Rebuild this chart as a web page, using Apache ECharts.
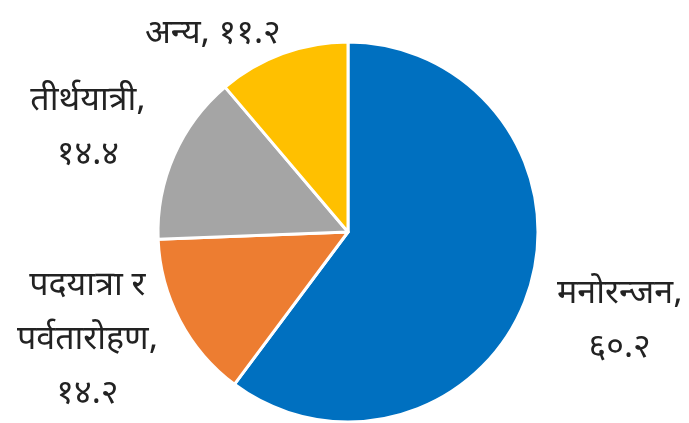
<!DOCTYPE html>
<html>
<head>
<meta charset="utf-8">
<script src="https://cdn.jsdelivr.net/npm/echarts@6/dist/echarts.min.js"></script>
<style>
  html, body { margin: 0; padding: 0; background: #ffffff; }
  #chart { width: 689px; height: 423px; }
</style>
</head>
<body>
<div id="chart"></div>
<script>
// Share of visitors by purpose of visit (%)
const categories = ['मनोरन्जन', 'पदयात्रा र\nपर्वतारोहण', 'तीर्थयात्री', 'अन्य'];
const values = [60.2, 14.2, 14.4, 11.2];
const colors = ['#0070C0', '#ED7D31', '#A5A5A5', '#FFC000'];

const DEV_DIGITS = '०१२३४५६७८९';
function toDevanagari(num) {
  return String(num).replace(/[0-9]/g, d => DEV_DIGITS[+d]);
}

const CENTER = [348, 232];
const RADIUS = 190;
const LABEL_DIST = 282;
// small per-label shifts so the text blocks sit clear of the pie
const LABEL_SHIFT = [[4, 3], [-11, -21], [-2, 12], [-38, 69]];

// mid-angle of each slice, clockwise from 12 o'clock
const total = values.reduce((a, b) => a + b, 0);
const midAngles = [];
let acc = 0;
values.forEach(v => {
  midAngles.push((acc + v / 2) / total * 2 * Math.PI);
  acc += v;
});

const chart = echarts.init(document.getElementById('chart'), null, { renderer: 'canvas' });

chart.setOption({
  backgroundColor: '#ffffff',
  animation: false,
  series: [{
    type: 'pie',
    center: CENTER,
    radius: RADIUS,
    startAngle: 90,
    clockwise: true,
    data: categories.map((name, i) => ({
      name: name,
      value: values[i],
      itemStyle: { color: colors[i] }
    })),
    itemStyle: { borderColor: '#ffffff', borderWidth: 3 },
    label: {
      show: true,
      position: 'inside',
      fontFamily: '"Noto Sans Devanagari", "Noto Sans", sans-serif',
      fontSize: 34,
      lineHeight: 54,
      color: '#222222',
      align: 'center',
      overflow: 'none',
      formatter: p => {
        const sep = p.name.length <= 4 ? ', ' : ',\n';
        return p.name + sep + toDevanagari(p.value);
      }
    },
    labelLine: { show: false },
    labelLayout: params => {
      const i = params.dataIndex;
      const a = midAngles[i];
      return {
        x: CENTER[0] + Math.sin(a) * LABEL_DIST + LABEL_SHIFT[i][0],
        y: CENTER[1] - Math.cos(a) * LABEL_DIST + LABEL_SHIFT[i][1],
        align: 'center',
        verticalAlign: 'middle'
      };
    }
  }]
});
</script>
</body>
</html>
